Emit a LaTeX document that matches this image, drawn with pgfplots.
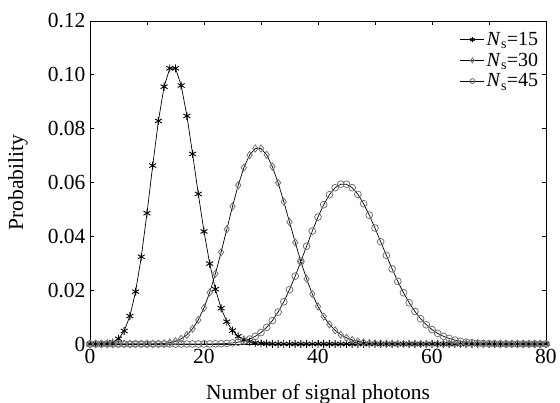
\documentclass[border=0pt]{standalone}
\usepackage{fontspec}
\setmainfont{Liberation Serif}
\usepackage{pgfplots}
\usepackage{pgfplotstable}
\pgfplotsset{compat=1.18}

% photon-number distributions, columns: k, Ns=15, Ns=30, Ns=45
\pgfplotstableread{
k a b c
0 0.0000003 0 0
1 0.0000046 0 0
2 0.0000344 0 0
3 0.0001721 0 0
4 0.0006453 0 0
5 0.0019358 0 0
6 0.0048395 0 0
7 0.0103704 0 0
8 0.0194445 0 0
9 0.0324076 0.0000051 0
10 0.0486114 0.0000152 0
11 0.0662882 0.0000415 0
12 0.0828602 0.0001038 0
13 0.0956079 0.0002396 0
14 0.1024370 0.0005134 0
15 0.1024370 0.0010268 0
16 0.0960347 0.0019252 0
17 0.0847365 0.0033974 0
18 0.0706138 0.0056624 0
19 0.0557477 0.0089407 0.0000061
20 0.0418108 0.0134110 0.0000136
21 0.0298648 0.0191585 0.0000292
22 0.0203624 0.0261252 0.0000598
23 0.0132798 0.0340768 0.0001170
24 0.0082999 0.0425960 0.0002194
25 0.0049799 0.0511152 0.0003948
26 0.0028730 0.0589791 0.0006834
27 0.0015961 0.0655324 0.0011389
28 0.0008551 0.0702133 0.0018304
29 0.0004423 0.0726340 0.0028403
30 0.0002211 0.0726340 0.0042605
31 0.0001070 0.0702910 0.0061847
32 0.0000502 0.0658978 0.0086973
33 0.0000228 0.0599071 0.0118603
34 0.0000101 0.0528592 0.0156975
35 0.0000043 0.0453079 0.0201825
36 0.0000018 0.0377566 0.0252281
37 0 0.0306135 0.0306829
38 0 0.0241686 0.0363350
39 0 0.0185912 0.0419250
40 0 0.0139434 0.0471656
41 0 0.0102025 0.0517671
42 0 0.0072875 0.0554647
43 0 0.0050843 0.0580444
44 0 0.0034666 0.0593635
45 0 0.0023111 0.0593635
46 0 0.0015072 0.0580708
47 0 0.0009621 0.0555997
48 0 0.0006013 0.0521247
49 0 0.0003681 0.0478696
50 0 0.0002209 0.0430826
51 0 0.0001299 0.0380141
52 0 0.0000750 0.0328968
53 0 0.0000424 0.0279312
54 0 0.0000236 0.0232760
55 0 0.0000129 0.0190440
56 0 0.0000069 0.0153032
57 0 0.0000036 0.0120815
58 0 0 0.0093736
59 0 0 0.0071494
60 0 0 0.0053620
61 0 0 0.0039556
62 0 0 0.0028710
63 0 0 0.0020507
64 0 0 0.0014419
65 0 0 0.0009983
66 0 0 0.0006807
67 0 0 0.0004572
68 0 0 0.0003025
69 0 0 0.0001973
70 0 0 0.0001268
71 0 0 0.0000804
72 0 0 0.0000502
73 0 0 0.0000310
74 0 0 0.0000188
75 0 0 0.0000113
76 0 0 0.0000067
77 0 0 0.0000039
78 0 0 0.0000023
79 0 0 0.0000013
80 0 0 0.0000007
}\photons

\begin{document}
\begin{tikzpicture}[font=\fontsize{21.5}{25}\selectfont]
\useasboundingbox (-90pt,-59pt) rectangle (470pt,344pt);
\begin{axis}[
  scale only axis,
  width=456pt, height=323pt,
  xmin=0, xmax=80, ymin=0, ymax=0.12,
  xtick={0,20,...,80},
  minor xtick={10,30,50,70},
  ytick={0,0.02,...,0.12},
  yticklabels={0,0.02,0.04,0.06,0.08,0.10,0.12},
  tick align=inside,
  major tick length=4pt, minor tick length=4pt,
  every tick/.style={black, line width=0.8pt},
  axis line style={line width=0.9pt},
  /pgf/number format/assume math mode=true,
  ticklabel style={font=\fontsize{21.5}{25}\selectfont},
  xticklabel style={yshift=-2pt},
  yticklabel style={xshift=-1pt},
  xlabel={Number of signal photons},
  ylabel={Probability},
  xlabel style={at={(axis description cs:0.5,-0.155)}, anchor=center},
  ylabel style={at={(axis description cs:-0.158,0.5)}, anchor=center},
  legend style={at={(rel axis cs:0.99,0.975)}, anchor=north east,
    draw=none, fill=none, font=\fontsize{20}{23}\selectfont,
    row sep=2pt, inner sep=1pt},
  legend cell align=left,
  legend image code/.code={
    \draw[mark repeat=2, mark phase=2, mark size=2.5pt, #1] plot coordinates {(0pt,0pt) (12pt,0pt) (24pt,0pt)};},
]
\addplot[black, line width=0.7pt, mark=asterisk, mark size=4pt,
  mark options={black, line width=0.9pt}] table[x=k, y=a] {\photons};
\addlegendentry{\textit{N}\textsubscript{s}=15}
\addplot[black, line width=0.7pt, mark=diamond, mark size=3.6pt,
  mark options={black!55, line width=0.8pt}] table[x=k, y=b] {\photons};
\addlegendentry{\textit{N}\textsubscript{s}=30}
\addplot[black, line width=0.7pt, mark=o, mark size=3.4pt,
  mark options={black!55, line width=0.8pt}] table[x=k, y=c] {\photons};
\addlegendentry{\textit{N}\textsubscript{s}=45}
\end{axis}
\end{tikzpicture}
\end{document}
